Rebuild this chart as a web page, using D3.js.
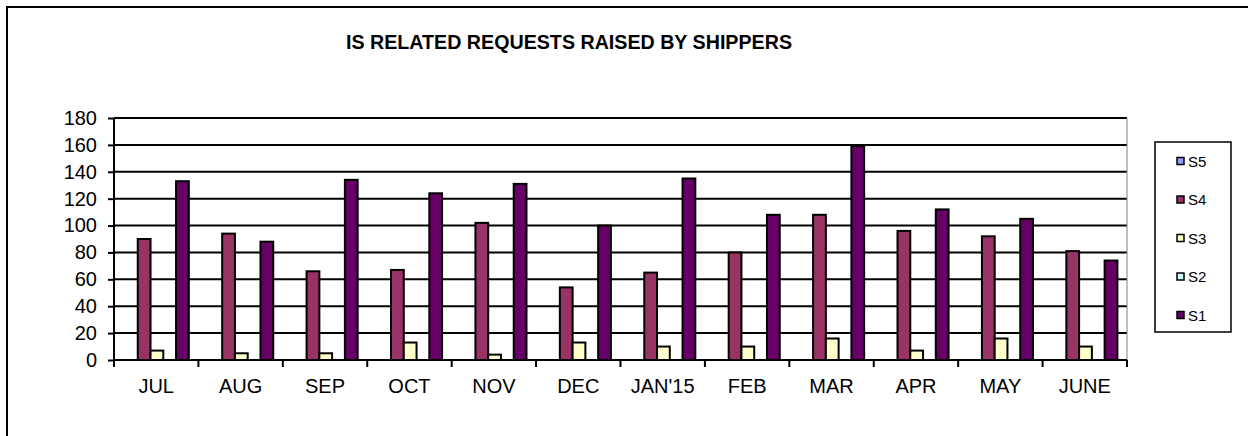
<!DOCTYPE html>
<html>
<head>
<meta charset="utf-8">
<script src="https://cdn.jsdelivr.net/npm/d3@7"></script>
<style>
  body { margin: 0; background: #fff; overflow: hidden; }
  svg { display: block; font-family: "Liberation Sans", Arial, sans-serif; }
</style>
</head>
<body>
<svg width="1248" height="436"></svg>
<script>
var months = ['JUL', 'AUG', 'SEP', 'OCT', 'NOV', 'DEC', "JAN'15", 'FEB', 'MAR', 'APR', 'MAY', 'JUNE'];
var seriesNames = ['S5', 'S4', 'S3', 'S2', 'S1'];
var s5 = [0, 0, 0, 0, 0, 0, 0, 0, 0, 0, 0, 0];
var s4 = [90, 94, 66, 67, 102, 54, 65, 80, 108, 96, 92, 81];
var s3 = [7, 5, 5, 13, 4, 13, 10, 10, 16, 7, 16, 10];
var s2 = [0, 0, 0, 0, 0, 0, 0, 0, 0, 0, 0, 0];
var s1 = [133, 88, 134, 124, 131, 100, 135, 108, 159, 112, 105, 74];
var yTicks = [0, 20, 40, 60, 80, 100, 120, 140, 160, 180];
var colors = ['#9999FF', '#993366', '#FFFFCC', '#CCFFFF', '#660066'];

var values = [s5, s4, s3, s2, s1];

var plot = { left: 114, right: 1127, top: 118, bottom: 360 };
var LABEL_FONT = '20px';

var svg = d3.select('svg');

// outer chart frame: only the left and top edges are inside the picture
svg.append('path')
  .attr('d', 'M7,436V7H1248')
  .style('fill', 'none')
  .style('stroke', 'black')
  .style('stroke-width', 2);

svg.append('text')
  .attr('x', 346)
  .attr('y', 49)
  .attr('textLength', 446)
  .attr('lengthAdjust', 'spacingAndGlyphs')
  .style('font-size', '21px')
  .style('font-weight', 'bold')
  .text('IS RELATED REQUESTS  RAISED BY SHIPPERS');

var x0 = d3.scaleBand()
  .domain(months)
  .range([plot.left, plot.right])
  .padding(0);

var x1 = d3.scaleBand()
  .domain(seriesNames)
  .range([11, x0.bandwidth() - 9.6])
  .padding(0);

var y = d3.scaleLinear()
  .domain([0, 180])
  .range([plot.bottom, plot.top]);

// gridlines
svg.append('g')
  .selectAll('line')
  .data(yTicks.filter(function (d) { return d > 0; }))
  .enter().append('line')
  .attr('x1', plot.left)
  .attr('x2', plot.right)
  .attr('y1', function (d) { return y(d); })
  .attr('y2', function (d) { return y(d); })
  .style('stroke', 'black')
  .style('stroke-width', 2);

// right plot edge
svg.append('line')
  .attr('x1', plot.right)
  .attr('x2', plot.right)
  .attr('y1', plot.top)
  .attr('y2', plot.bottom)
  .style('stroke', '#808080')
  .style('stroke-width', 1);

// bars
var groups = svg.append('g')
  .selectAll('g')
  .data(months)
  .enter().append('g')
  .attr('transform', function (d) { return 'translate(' + x0(d) + ',0)'; });

groups.selectAll('rect')
  .data(function (m, i) {
    return seriesNames.map(function (s, k) {
      return { name: s, value: values[k][i], color: colors[k] };
    });
  })
  .enter().append('rect')
  .filter(function (d) { return d.value > 0; })
  .attr('x', function (d) { return x1(d.name); })
  .attr('y', function (d) { return y(d.value); })
  .attr('width', x1.bandwidth())
  .attr('height', function (d) { return y(0) - y(d.value); })
  .style('fill', function (d) { return d.color; })
  .style('stroke', 'black')
  .style('stroke-width', 2);

// y axis
var yAxis = d3.axisLeft(y)
  .tickValues(yTicks)
  .tickSize(6)
  .tickPadding(11);

var gy = svg.append('g')
  .attr('transform', 'translate(' + plot.left + ',0)')
  .call(yAxis);
gy.select('.domain').remove();
gy.append('line')
  .attr('x1', 0).attr('x2', 0)
  .attr('y1', plot.top).attr('y2', plot.bottom + 7)
  .style('stroke', 'black')
  .style('stroke-width', 2);
gy.selectAll('.tick line').style('stroke', 'black').style('stroke-width', 2);
gy.selectAll('.tick text')
  .style('font-size', LABEL_FONT)
  .style('font-family', '"Liberation Sans", Arial, sans-serif')
  .attr('fill', 'black');

// x axis
var gx = svg.append('g')
  .attr('transform', 'translate(0,' + plot.bottom + ')');
gx.append('line')
  .attr('x1', plot.left).attr('x2', plot.right)
  .style('stroke', 'black')
  .style('stroke-width', 2);
gx.selectAll('line.tk')
  .data(d3.range(months.length + 1))
  .enter().append('line')
  .attr('class', 'tk')
  .attr('x1', function (i) { return plot.left + i * x0.step(); })
  .attr('x2', function (i) { return plot.left + i * x0.step(); })
  .attr('y1', 0)
  .attr('y2', 7)
  .style('stroke', 'black')
  .style('stroke-width', 2);
gx.selectAll('text')
  .data(months)
  .enter().append('text')
  .attr('x', function (d) { return x0(d) + x0.bandwidth() / 2; })
  .attr('y', 33)
  .attr('text-anchor', 'middle')
  .style('font-size', LABEL_FONT)
  .text(function (d) { return d; });

// legend
var legend = svg.append('g');
legend.append('rect')
  .attr('x', 1155)
  .attr('y', 142)
  .attr('width', 76)
  .attr('height', 190)
  .style('fill', 'white')
  .style('stroke', 'black')
  .style('stroke-width', 1.5);

var items = legend.selectAll('g')
  .data(seriesNames)
  .enter().append('g')
  .attr('transform', function (d, i) { return 'translate(1177,' + (161 + i * 38.5) + ')'; });
items.append('rect')
  .attr('x', 0)
  .attr('y', -3.5)
  .attr('width', 7)
  .attr('height', 7)
  .style('fill', function (d, i) { return colors[i]; })
  .style('stroke', 'black')
  .style('stroke-width', 1.5);
items.append('text')
  .attr('x', 11)
  .attr('y', 5.5)
  .style('font-size', '15px')
  .text(function (d) { return d; });
</script>
</body>
</html>
